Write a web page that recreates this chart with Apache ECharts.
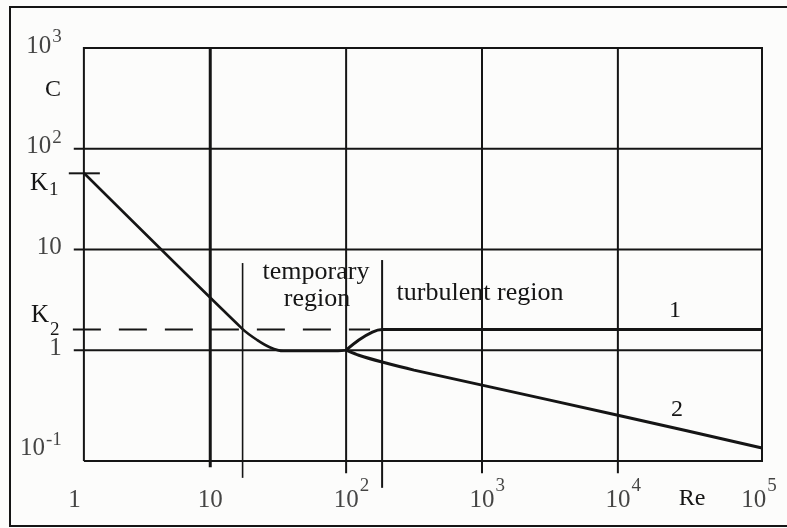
<!DOCTYPE html>
<html><head><meta charset="utf-8">
<script src="https://cdn.jsdelivr.net/npm/echarts/dist/echarts.min.js"></script>
<style>html,body{margin:0;padding:0;background:#fcfcfb}#c{width:787px;height:528px}</style>
</head><body><div id="c"></div>
<script>
// ---- data ----
const xTickValues = [1, 10, 100, 1000, 10000, 100000];
const xTickLabels = ['1', '10', '10^2', '10^3', '10^4', '10^5'];
const yTickValues = [1000, 100, 10, 1, 0.1];
const yTickLabels = ['10^3', '10^2', '10', '1', '10^-1'];

const K1 = 57;
const K2 = 1.6;

// laminar branch + temporary region (common curve)
const laminarRe = [1.175, 17.3, 22.2, 27.4, 34.5, 79.4, 100];
const laminarC  = [57.4, 1.62, 1.26, 1.07, 0.98, 0.98, 1.0];
// turbulent branch 1
const curve1Re = [100, 124, 156, 184, 115000];
const curve1C  = [1.0, 1.26, 1.51, 1.6, 1.6];
// turbulent branch 2
const curve2Re = [100, 124, 184, 316, 1000, 10000, 115000];
const curve2C  = [1.0, 0.89, 0.762, 0.634, 0.45, 0.226, 0.107];

// region boundaries (Re) and their vertical extents (C)
const regionRe = [17.3, 184];
const regionTop = [7.33, 7.85];
const regionBottom = [0.054, 0.043];

// grid lines
const vGridValues = [10, 100, 1000, 10000];
const vGridBottom = [0.069, 0.060, 0.060, 0.060];
const hGridValues = [100, 10, 1];

// plot frame extents (data space)
const FRAME_X0 = 1.175, FRAME_X1 = 115000;
const FRAME_Y0 = 0.0794, FRAME_Y1 = 1000;
// axis extents (x axis extended to the left so that tick stubs can be drawn)
const X_MIN = 0.631, X_MAX = 115000;
const Y_MIN = 0.0794, Y_MAX = 1000;

// ---- drawing ----
const INK = '#151515';
const FONT = '"Liberation Serif", "Times New Roman", serif';

function seg(xs, ys, width, extra) {
  return Object.assign({
    type: 'line', data: xs.map((x, i) => [x, ys[i]]), symbol: 'none', clip: false,
    silent: true, animation: false, z: 3,
    lineStyle: { color: INK, width: width, cap: 'butt' }
  }, extra || {});
}

function richLabel(s, supStyle) {
  const i = s.indexOf('^');
  if (i < 0) return '{b|' + s + '}';
  return '{b|' + s.slice(0, i) + '}{' + supStyle + '|' + s.slice(i + 1) + '}';
}
const richStyles = {
  b: { fontSize: 25, fontFamily: FONT, color: INK },
  sx: { fontSize: 19, fontFamily: FONT, color: INK, padding: [0, 0, 28, 1] },
  sy: { fontSize: 19, fontFamily: FONT, color: INK, padding: [0, 0, 17, 1] }
};

const series = [];
// plot frame
series.push(seg([FRAME_X0, FRAME_X1, FRAME_X1, FRAME_X0, FRAME_X0],
                [FRAME_Y0, FRAME_Y0, FRAME_Y1, FRAME_Y1, FRAME_Y0], 2, { lineStyle: { color: INK, width: 2, join: 'miter' } }));
vGridValues.forEach((v, i) => series.push(seg([v, v], [Y_MAX, vGridBottom[i]], i === 0 ? 3 : 2)));
hGridValues.forEach(v => series.push(seg([0.99, FRAME_X1], [v, v], 2)));
regionRe.forEach((v, i) => series.push(seg([v, v], [regionTop[i], regionBottom[i]], i === 0 ? 1.6 : 2)));
series.push(seg([0.91, 1.54], [K1, K1], 2));
series.push(seg([0.975, 150], [K2, K2], 2, { lineStyle: { color: INK, width: 2, type: [28, 18], cap: 'butt' } }));
series.push(seg(laminarRe, laminarC, 2.6, { smooth: 0.3, z: 4 }));
series.push(seg(curve1Re, curve1C, 3, { smooth: 0.3, z: 4 }));
series.push(seg(curve2Re, curve2C, 3, { smooth: 0.2, z: 4 }));

// x tick labels
series.push({
  type: 'scatter', symbolSize: 0, clip: false, silent: true, animation: false, z: 5,
  data: xTickValues.map((v, i) => {
    const base = xTickLabels[i].split('^')[0];
    return {
      value: [v, 0.0326],
      label: { show: true, position: [0, 0], align: 'left', verticalAlign: 'middle',
        offset: [-base.length * 6.2, 0],
        formatter: richLabel(xTickLabels[i], 'sx'), rich: richStyles }
    };
  })
});
// y tick labels
series.push({
  type: 'scatter', symbolSize: 0, clip: false, silent: true, animation: false, z: 5,
  data: yTickValues.map((v, i) => ({
    value: [0.809, v],
    label: { show: true, position: 'left', distance: 0, offset: [0, -2],
      formatter: richLabel(yTickLabels[i], 'sy'), rich: richStyles }
  }))
});

const txt = (text, x, y, size, align) => ({
  type: 'text', z: 10, silent: true,
  style: { text, x, y, fontSize: size, fontFamily: FONT, fill: INK, align: align || 'center', verticalAlign: 'middle' }
});

const option = {
  backgroundColor: '#fcfcfb',
  animation: false,
  grid: { left: 47.2, right: 25, top: 48, bottom: 67, show: false },
  xAxis: { type: 'log', logBase: 10, min: X_MIN, max: X_MAX, show: false },
  yAxis: { type: 'log', logBase: 10, min: Y_MIN, max: Y_MAX, show: false },
  series: series,
  graphic: [
    { type: 'rect', z: 1, silent: true, shape: { x: 10, y: 7, width: 800, height: 519 },
      style: { fill: 'none', stroke: INK, lineWidth: 2 } },
    txt('C', 53, 90, 24),
    { type: 'text', z: 10, silent: true,
      style: { text: '{k|K}{d|1}', x: 30, y: 183, align: 'left', verticalAlign: 'middle',
        rich: { k: { fontSize: 25, fontFamily: FONT, fill: INK, color: INK },
                d: { fontSize: 19, fontFamily: FONT, fill: INK, color: INK, padding: [14, 0, 0, 1] } } } },
    { type: 'text', z: 10, silent: true,
      style: { text: '{k|K}{d|2}', x: 31, y: 315, align: 'left', verticalAlign: 'middle',
        rich: { k: { fontSize: 25, fontFamily: FONT, fill: INK, color: INK },
                d: { fontSize: 19, fontFamily: FONT, fill: INK, color: INK, padding: [30, 0, 0, 1] } } } },
    txt('temporary', 316, 272, 26),
    txt('region', 317, 299, 26),
    txt('turbulent region', 480, 293, 26),
    txt('1', 675, 311, 24),
    txt('2', 677, 410, 24),
    txt('Re', 692, 499, 24)
  ]
};
const chart = echarts.init(document.getElementById('c'));
chart.setOption(option);
</script>
</body></html>
